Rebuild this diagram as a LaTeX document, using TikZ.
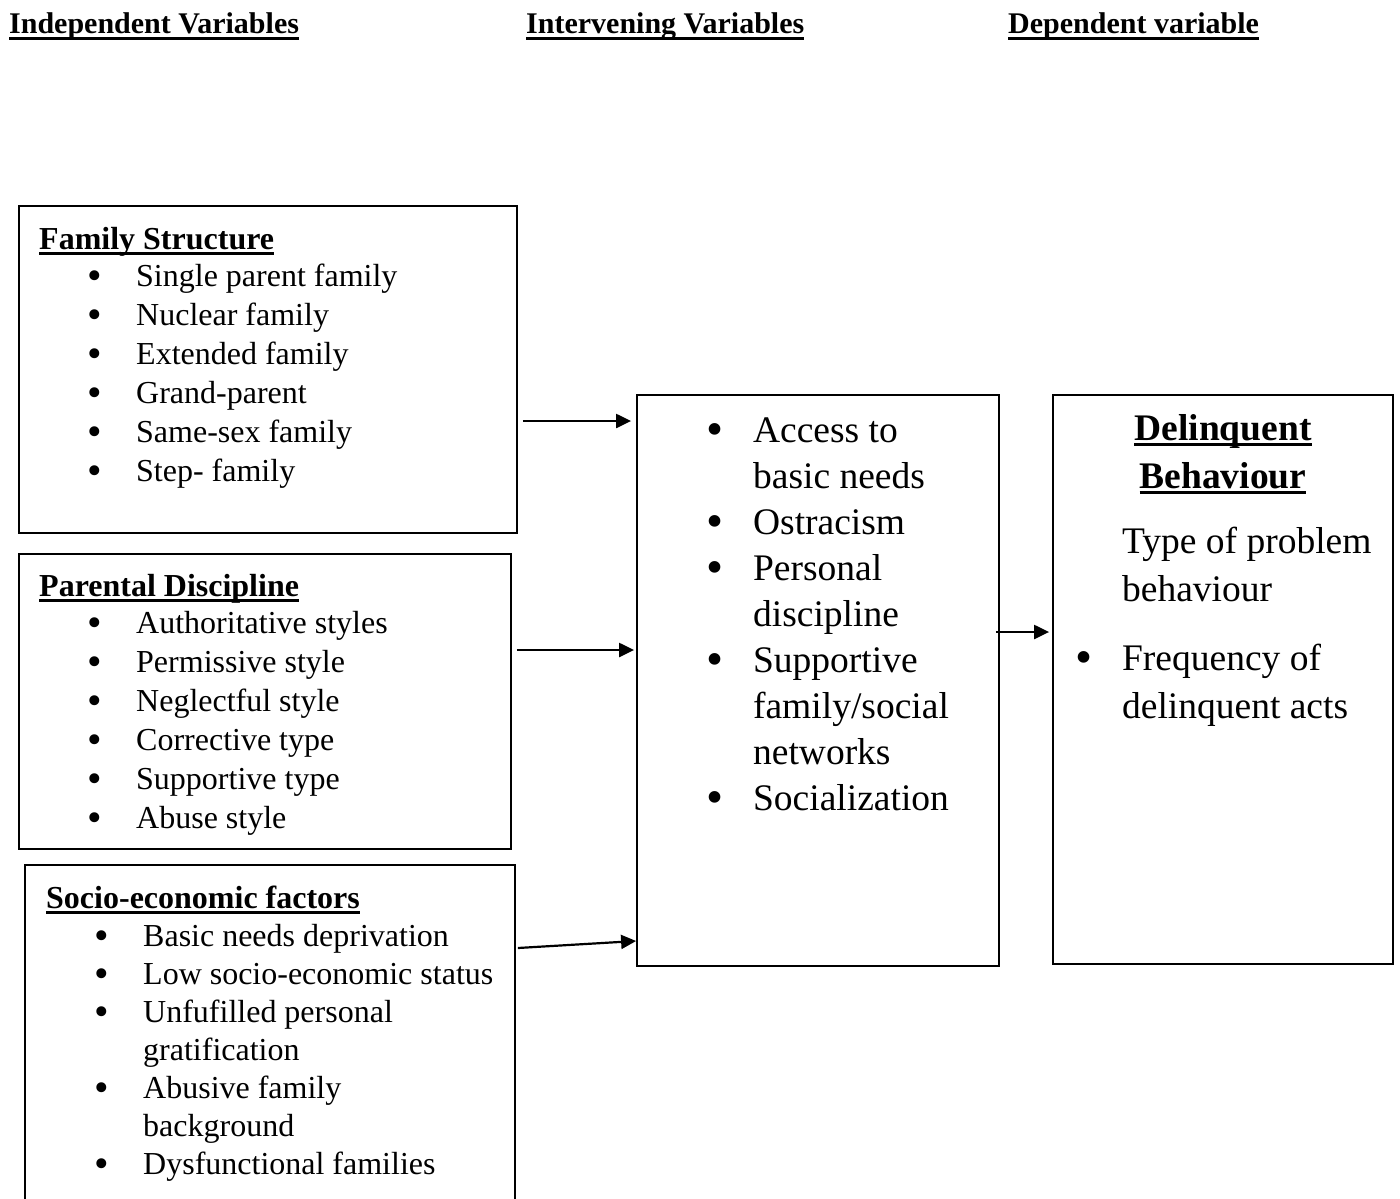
\documentclass[tikz,border=0pt]{standalone}
\usepackage{fontspec}
\setmainfont{Liberation Serif}
\usetikzlibrary{arrows.meta, positioning}
\newcommand{\Ul}[1]{\setbox0\hbox{#1}\rlap{\rule[-6pt]{\wd0}{3pt}}\box0}
\newcommand{\Dot}{\raisebox{-3pt}{\scalebox{1.3}{\textbullet}}}
\newcommand{\LB}{\hspace*{48.5pt}\makebox[48.5pt][l]{\Dot}}
\newcommand{\LW}{\hspace*{97pt}}
\newcommand{\BB}{\makebox[46.5pt][l]{\Dot}}
\newcommand{\BW}{\hspace*{46.5pt}}
\tikzset{
  panel/.style={draw, line width=1.8pt, inner sep=0pt},
  head/.style={anchor=base west, inner sep=0pt, font=\fontsize{30}{36}\selectfont\bfseries},
  smalllist/.style={anchor=base west, inner sep=0pt, align=left, font=\fontsize{32}{39}\selectfont},
  biglist/.style={anchor=base west, inner sep=0pt, align=left, font=\fontsize{37.5}{46}\selectfont},
  link/.style={-{Triangle[length=15pt,width=14pt]}, line width=2.2pt},
}

\begin{document}
\begin{tikzpicture}[x=1pt, y=-1pt]
  \useasboundingbox (0,0) rectangle (1400,1199);
  \clip (0,0) rectangle (1400,1199);
  % column headings
  \node[head] (hind) at (9,34)    {\Ul{Independent Variables}};
  \node[head] (hint) at (526,34)  {\Ul{Intervening Variables}};
  \node[head] (hdep) at (1008,34) {\Ul{Dependent variable}};
  % boxes
  \node[panel, minimum width=498pt, minimum height=327pt] (fam)  at (268,369.5) {};
  \node[panel, minimum width=492pt, minimum height=295pt] (disc) at (265,701.5) {};
  \node[panel, minimum width=490pt, minimum height=360pt] (soc)  at (270,1045)  {};
  \node[panel, minimum width=362pt, minimum height=571pt] (mid)  at (818,680.5) {};
  \node[panel, minimum width=340pt, minimum height=569pt] (dep)  at (1223,679.5) {};
  % box contents (base = last line)
  \node[smalllist] (famtxt) at (39,481) {\textbf{\Ul{Family Structure}}\\[-2pt]
    \LB Single parent family\\ \LB Nuclear family\\ \LB Extended family\\
    \LB Grand-parent\\ \LB Same-sex family\\ \LB Step- family};
  \node[smalllist] (disctxt) at (39,828) {\textbf{\Ul{Parental Discipline}}\\[-2pt]
    \LB Authoritative styles\\ \LB Permissive style\\ \LB Neglectful style\\
    \LB Corrective type\\ \LB Supportive type\\ \LB Abuse style};
  \node[smalllist, font=\fontsize{32}{38}\selectfont] (soctxt) at (46,1174) {\textbf{\Ul{Socio-economic factors}}\\
    \LB Basic needs deprivation\\ \LB Low socio-economic status\\ \LB Unfufilled personal\\
    \LW gratification\\ \LB Abusive family\\ \LW background\\ \LB Dysfunctional families};
  \node[biglist] (midtxt) at (706.4,810) {\BB Access to\\ \BW basic needs\\ \BB Ostracism\\
    \BB Personal\\ \BW discipline\\ \BB Supportive\\ \BW family/social\\ \BW networks\\ \BB Socialization};
  \node[anchor=base, inner sep=0pt, align=center, font=\fontsize{37.5}{48}\selectfont\bfseries] (deptitle)
    at (1223,488) {\Ul{Delinquent}\\ \Ul{Behaviour}};
  \node[biglist, font=\fontsize{37.5}{48}\selectfont] (deptxt) at (1075.4,718) {\BW Type of problem\\
    \BW behaviour\\[21pt] \BB Frequency of\\ \BW delinquent acts};
  % arrows
  \draw[link] ([xshift=5pt, yshift=-51.5pt]fam.east) -- ([xshift=-5pt, yshift=259.5pt]mid.west);
  \draw[link] ([xshift=5pt, yshift=51.5pt]disc.east) -- ([xshift=-2pt, yshift=30.5pt]mid.west);
  \draw[link] ([xshift=2pt, yshift=97pt]soc.east) -- ([yshift=-260.5pt]mid.west);
  \draw[link] ([xshift=-4pt, yshift=48.5pt]mid.east) -- ([xshift=-3pt, yshift=47.5pt]dep.west);
\end{tikzpicture}
\end{document}
